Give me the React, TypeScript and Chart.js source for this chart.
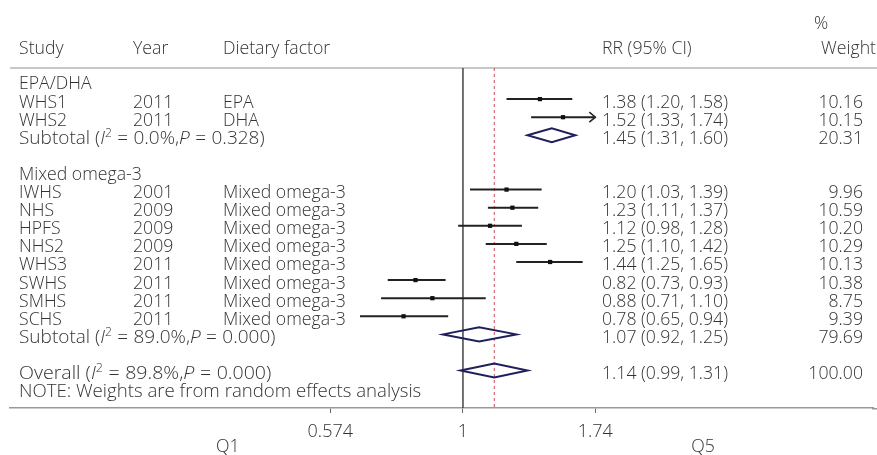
import { useEffect, useRef } from "react";
import { Chart, registerables } from "chart.js";
Chart.register(...registerables);

// ---- data ----
const studies = ["WHS1", "WHS2", "IWHS", "NHS", "HPFS", "NHS2", "WHS3", "SWHS", "SMHS", "SCHS"];
const years = ["2011", "2011", "2001", "2009", "2009", "2009", "2011", "2011", "2011", "2011"];
const factors = ["EPA", "DHA", "Mixed omega-3", "Mixed omega-3", "Mixed omega-3", "Mixed omega-3", "Mixed omega-3", "Mixed omega-3", "Mixed omega-3", "Mixed omega-3"];
const rr = [1.38, 1.52, 1.2, 1.23, 1.12, 1.25, 1.44, 0.82, 0.88, 0.78];
const lo = [1.2, 1.33, 1.03, 1.11, 0.98, 1.1, 1.25, 0.73, 0.71, 0.65];
const hi = [1.58, 1.74, 1.39, 1.37, 1.28, 1.42, 1.65, 0.93, 1.1, 0.94];
const weights = ["10.16", "10.15", "9.96", "10.59", "10.20", "10.29", "10.13", "10.38", "8.75", "9.39"];
const studyRows = [1, 2, 6, 7, 8, 9, 10, 11, 12, 13];

const groups = ["EPA/DHA", "Mixed omega-3"];
const groupRows = [0, 5];

const subRR = [1.45, 1.07];
const subLo = [1.31, 0.92];
const subHi = [1.6, 1.25];
const subW = ["20.31", "79.69"];
const subI2 = ["0.0%", "89.0%"];
const subP = ["0.328", "0.000"];
const subRows = [3, 14];

const overallRR = 1.14;
const overallLo = 0.99;
const overallHi = 1.31;
const overallW = "100.00";
const overallI2 = "89.8%";
const overallP = "0.000";
const overallRow = 16;
const noteRow = 17;
const noteText = "NOTE: Weights are from random effects analysis";

const xTicks = [0.574, 1, 1.74];
const xMin = 0.1503;
const xMax = 5.56;
const yMin = -0.718;
const yMax = 18.067;
const qLabels = ["Q1", "Q5"];
const qLabelValues = [0.374, 2.73];

const FONT = '"Open Sans", "DejaVu Sans", sans-serif';
const TEXT = "#333";
const FS = 19;
const SX = 0.93;

type Seg = { t: string; i?: boolean; s?: boolean; gap?: number };

function fmt(v: number) {
  return v.toFixed(2);
}

function setFont(ctx: CanvasRenderingContext2D, size = FS, italic = false) {
  ctx.font = `${italic ? "italic " : ""}300 ${size}px ${FONT}`;
}

function txt(ctx: CanvasRenderingContext2D, t: string, x: number, y: number, sx = SX) {
  ctx.save();
  ctx.translate(x, y);
  ctx.scale(sx, 1);
  ctx.fillText(t, 0, 0);
  ctx.restore();
}

function drawRich(ctx: CanvasRenderingContext2D, segs: Seg[], x: number, y: number, sx: number) {
  let cx = x;
  for (const sg of segs) {
    cx += sg.gap || 0;
    setFont(ctx, sg.s ? 12 : FS, !!sg.i);
    txt(ctx, sg.t, cx, sg.s ? y - 7 : y, sx);
    cx += ctx.measureText(sg.t).width * sx + (sg.gap || 0);
  }
  setFont(ctx);
}

function statSegs(prefix: string, i2: string, p: string): Seg[] {
  return [
    { t: prefix + " (" },
    { t: "I", i: true },
    { t: "2", s: true },
    { t: " = ", gap: 0.5 },
    { t: i2 + "," },
    { t: "P", i: true },
    { t: " = ", gap: 0.5 },
    { t: p + ")" },
  ];
}

const forestPlugin = {
  id: "forest",
  beforeDatasetsDraw(chart: any) {
    const ctx: CanvasRenderingContext2D = chart.ctx;
    const xs = chart.scales.x;
    const ys = chart.scales.y;
    const area = chart.chartArea;
    const W = chart.width;
    ctx.save();
    // header rule
    ctx.strokeStyle = "#c8c8c8";
    ctx.lineWidth = 2;
    ctx.beginPath();
    ctx.moveTo(area.left, area.top);
    ctx.lineTo(W, area.top);
    ctx.stroke();
    // continue the axis line to the edge
    ctx.strokeStyle = "#999";
    ctx.lineWidth = 1.5;
    ctx.beginPath();
    ctx.moveTo(area.right - 1, area.bottom + 0.75);
    ctx.lineTo(W, area.bottom + 0.75);
    ctx.stroke();
    // null line
    const x1 = xs.getPixelForValue(1);
    ctx.strokeStyle = "#444";
    ctx.lineWidth = 1.5;
    ctx.beginPath();
    ctx.moveTo(x1, area.top);
    ctx.lineTo(x1, area.bottom);
    ctx.stroke();
    // overall dashed line
    const xo = xs.getPixelForValue(overallRR);
    ctx.strokeStyle = "#c84a5e";
    ctx.lineWidth = 1;
    ctx.setLineDash([3, 3]);
    ctx.beginPath();
    ctx.moveTo(xo, area.top);
    ctx.lineTo(xo, area.bottom);
    ctx.stroke();
    ctx.setLineDash([]);
    // CI lines
    ctx.strokeStyle = "#222";
    ctx.lineWidth = 2;
    const capMax = xTicks[xTicks.length - 1];
    for (let i = 0; i < rr.length; i++) {
      const y = ys.getPixelForValue(studyRows[i]);
      const a = xs.getPixelForValue(lo[i]);
      const b = xs.getPixelForValue(Math.min(hi[i], capMax));
      ctx.beginPath();
      ctx.moveTo(a, y);
      ctx.lineTo(b, y);
      ctx.stroke();
      if (hi[i] >= capMax) {
        ctx.lineWidth = 1.5;
        ctx.beginPath();
        ctx.moveTo(b - 6, y - 5);
        ctx.lineTo(b, y);
        ctx.lineTo(b - 6, y + 5);
        ctx.stroke();
        ctx.lineWidth = 2;
      }
    }
    // pooled diamonds
    const diamond = (c: number, l: number, h: number, row: number) => {
      const y = ys.getPixelForValue(row);
      ctx.strokeStyle = "#1f1f5c";
      ctx.lineWidth = 2;
      ctx.beginPath();
      ctx.moveTo(xs.getPixelForValue(l), y);
      ctx.lineTo(xs.getPixelForValue(c), y - 7);
      ctx.lineTo(xs.getPixelForValue(h), y);
      ctx.lineTo(xs.getPixelForValue(c), y + 7);
      ctx.closePath();
      ctx.stroke();
    };
    for (let i = 0; i < subRR.length; i++) diamond(subRR[i], subLo[i], subHi[i], subRows[i]);
    diamond(overallRR, overallLo, overallHi, overallRow);
    ctx.restore();
  },
  afterDraw(chart: any) {
    const ctx: CanvasRenderingContext2D = chart.ctx;
    const xs = chart.scales.x;
    const ys = chart.scales.y;
    ctx.save();
    ctx.fillStyle = TEXT;
    ctx.textBaseline = "alphabetic";
    const base = (row: number) => ys.getPixelForValue(row) + 8.5;
    const colStudy = 19;
    const colYear = 133;
    const colFactor = 223;
    const colRR = 602;
    const colW = 863;
    setFont(ctx);
    ctx.textAlign = "left";
    txt(ctx, "Study", colStudy, 54);
    txt(ctx, "Year", colYear, 54);
    txt(ctx, "Dietary factor", colFactor, 54);
    txt(ctx, "RR (95% CI)", colRR, 54);
    txt(ctx, "%", 814, 29);
    ctx.textAlign = "right";
    txt(ctx, "Weight", 876, 54);
    ctx.textAlign = "left";

    for (let g = 0; g < groups.length; g++) txt(ctx, groups[g], colStudy, base(groupRows[g]));
    for (let i = 0; i < studies.length; i++) {
      const y = base(studyRows[i]);
      ctx.textAlign = "left";
      txt(ctx, studies[i], colStudy, y);
      txt(ctx, years[i], colYear, y);
      txt(ctx, factors[i], colFactor, y);
      txt(ctx, `${fmt(rr[i])} (${fmt(lo[i])}, ${fmt(hi[i])})`, colRR, y);
      ctx.textAlign = "right";
      txt(ctx, weights[i], colW, y);
    }
    for (let i = 0; i < subRR.length; i++) {
      const y = base(subRows[i]);
      ctx.textAlign = "left";
      drawRich(ctx, statSegs("Subtotal", subI2[i], subP[i]), colStudy, y, 1.0);
      txt(ctx, `${fmt(subRR[i])} (${fmt(subLo[i])}, ${fmt(subHi[i])})`, colRR, y);
      ctx.textAlign = "right";
      txt(ctx, subW[i], colW, y);
    }
    {
      const y = base(overallRow);
      ctx.textAlign = "left";
      drawRich(ctx, statSegs("Overall", overallI2, overallP), colStudy, y, 1.03);
      txt(ctx, `${fmt(overallRR)} (${fmt(overallLo)}, ${fmt(overallHi)})`, colRR, y);
      ctx.textAlign = "right";
      txt(ctx, overallW, colW, y);
      ctx.textAlign = "left";
      txt(ctx, noteText, colStudy, base(noteRow), 0.98);
    }
    ctx.textAlign = "center";
    for (let i = 0; i < qLabels.length; i++) {
      txt(ctx, qLabels[i], xs.getPixelForValue(qLabelValues[i]), 452);
    }
    ctx.restore();
  },
};

export default function App() {
  const ref = useRef<HTMLCanvasElement | null>(null);
  useEffect(() => {
    document.body.style.margin = "0";
    const canvas = ref.current!;
    const chart = new Chart(canvas, {
      type: "scatter",
      data: {
        datasets: [
          {
            data: rr.map((v, i) => ({ x: v, y: studyRows[i] })),
            pointStyle: "rect",
            pointRadius: 3,
            backgroundColor: "#111",
            borderColor: "#111",
            borderWidth: 0,
          },
        ],
      },
      options: {
        animation: false,
        responsive: false,
        devicePixelRatio: 1,
        layout: { padding: { top: 68, left: 10, right: 0, bottom: 0 } },
        plugins: { legend: { display: false }, tooltip: { enabled: false } },
        scales: {
          x: {
            type: "logarithmic",
            min: xMin,
            max: xMax,
            position: "bottom",
            afterBuildTicks: (s: any) => {
              s.ticks = xTicks.map((v) => ({ value: v }));
            },
            afterFit: (s: any) => {
              s.height = 47;
            },
            ticks: {
              callback: (v: any) => String(v),
              font: { family: FONT, size: 18, weight: 300 as any },
              color: TEXT,
              padding: 8,
              maxRotation: 0,
              autoSkip: false,
            },
            grid: { drawOnChartArea: false, drawTicks: true, tickLength: 5, color: "#666", lineWidth: 1 },
            border: { display: true, color: "#999", width: 1.5 },
          },
          y: { type: "linear", display: false, min: yMin, max: yMax, reverse: true },
        },
      },
      plugins: [forestPlugin],
    });
    return () => chart.destroy();
  }, []);
  return <canvas ref={ref} width={877} height={455} style={{ display: "block" }} />;
}
